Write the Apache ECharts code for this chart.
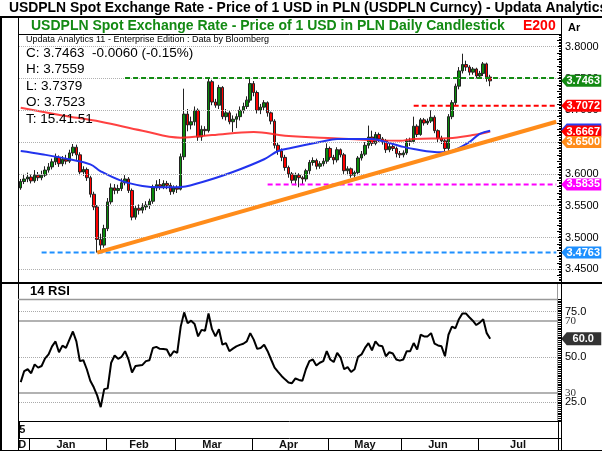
<!DOCTYPE html>
<html>
<head>
<meta charset="utf-8">
<script src="https://cdn.jsdelivr.net/npm/echarts@6/dist/echarts.min.js"></script>
<style>
html, body { margin: 0; padding: 0; background: #fff; }
#chart { width: 602px; height: 451px; }
</style>
</head>
<body>
<div id="chart"></div>
<script>
// trading days shown on the time axis (Dec 29 2014 .. Jul 31 2015)
var dates = [];
(function () {
  var d = new Date(Date.UTC(2014, 11, 29));
  var end = Date.UTC(2015, 6, 31);
  while (d.getTime() <= end) {
    var wd = d.getUTCDay();
    if (wd !== 0 && wd !== 6) dates.push(d.toISOString().slice(0, 10));
    d.setUTCDate(d.getUTCDate() + 1);
  }
})();

var monthNames = ['D', 'Jan', 'Feb', 'Mar', 'Apr', 'May', 'Jun', 'Jul'];
var yearLabel = '5';

// daily candles
var opens = [3.578,3.588,3.592,3.595,3.589,3.598,3.594,3.598,3.606,3.611,3.619,3.626,3.616,3.623,3.620,3.633,3.642,3.630,3.603,3.607,
  3.594,3.568,3.548,3.497,3.488,3.514,3.556,3.578,3.574,3.577,3.586,3.592,3.574,3.532,3.546,3.543,3.548,3.551,3.557,3.578,
  3.583,3.580,3.585,3.582,3.572,3.578,3.576,3.627,3.694,3.677,3.682,3.700,3.658,3.670,3.668,3.745,3.713,3.708,3.736,3.690,
  3.696,3.682,3.686,3.690,3.700,3.706,3.716,3.742,3.728,3.700,3.705,3.712,3.696,3.683,3.645,3.636,3.626,3.610,3.600,3.590,
  3.598,3.594,3.592,3.605,3.618,3.621,3.612,3.616,3.620,3.640,3.626,3.622,3.638,3.630,3.605,3.608,3.598,3.602,3.625,3.631,
  3.645,3.658,3.648,3.662,3.655,3.652,3.638,3.643,3.640,3.632,3.630,3.633,3.652,3.651,3.675,3.662,3.685,3.680,3.683,3.689,
  3.668,3.656,3.652,3.640,3.690,3.712,3.738,3.762,3.772,3.768,3.760,3.765,3.754,3.758,3.773,3.7523];
var closes = [3.588,3.592,3.595,3.589,3.598,3.594,3.598,3.606,3.611,3.619,3.626,3.616,3.623,3.620,3.633,3.642,3.630,3.603,3.607,3.594,
  3.568,3.548,3.497,3.488,3.514,3.556,3.578,3.574,3.577,3.586,3.592,3.574,3.532,3.546,3.543,3.548,3.551,3.557,3.578,3.583,
  3.580,3.585,3.582,3.572,3.578,3.576,3.627,3.694,3.677,3.682,3.700,3.658,3.670,3.668,3.745,3.713,3.708,3.736,3.690,3.696,
  3.682,3.686,3.690,3.700,3.706,3.716,3.742,3.728,3.700,3.705,3.712,3.696,3.683,3.645,3.636,3.626,3.610,3.600,3.590,3.598,
  3.594,3.592,3.605,3.618,3.621,3.612,3.616,3.620,3.640,3.626,3.622,3.638,3.630,3.605,3.608,3.598,3.602,3.625,3.631,3.645,
  3.658,3.648,3.662,3.655,3.652,3.638,3.643,3.640,3.632,3.630,3.633,3.652,3.651,3.675,3.662,3.685,3.680,3.683,3.689,3.668,
  3.656,3.652,3.640,3.690,3.712,3.738,3.762,3.772,3.768,3.760,3.765,3.754,3.758,3.773,3.7523,3.7463];
var lows = [3.575,3.584,3.587,3.585,3.586,3.589,3.590,3.595,3.602,3.607,3.614,3.611,3.612,3.615,3.617,3.628,3.622,3.598,3.597,3.589,
  3.563,3.543,3.4763,3.479,3.484,3.510,3.552,3.568,3.569,3.573,3.582,3.570,3.527,3.528,3.536,3.538,3.543,3.545,3.553,3.573,
  3.575,3.576,3.576,3.567,3.568,3.570,3.574,3.622,3.667,3.670,3.676,3.652,3.652,3.660,3.665,3.708,3.704,3.702,3.686,3.684,
  3.678,3.666,3.672,3.684,3.695,3.702,3.712,3.722,3.695,3.694,3.700,3.690,3.678,3.640,3.630,3.620,3.605,3.594,3.585,3.582,
  3.579,3.584,3.588,3.600,3.613,3.607,3.608,3.612,3.616,3.622,3.615,3.618,3.626,3.600,3.598,3.594,3.594,3.598,3.621,3.628,
  3.640,3.644,3.645,3.650,3.646,3.633,3.634,3.636,3.626,3.625,3.626,3.630,3.644,3.648,3.658,3.660,3.676,3.677,3.680,3.664,
  3.650,3.647,3.636,3.636,3.686,3.708,3.733,3.758,3.762,3.755,3.756,3.750,3.750,3.754,3.745,3.7379];
var highs = [3.592,3.600,3.602,3.599,3.606,3.603,3.605,3.612,3.617,3.624,3.632,3.629,3.628,3.630,3.638,3.647,3.646,3.634,3.612,3.610,
  3.597,3.572,3.551,3.506,3.520,3.562,3.585,3.584,3.583,3.593,3.598,3.595,3.577,3.550,3.552,3.554,3.557,3.561,3.583,3.590,
  3.592,3.590,3.589,3.586,3.582,3.582,3.632,3.734,3.702,3.690,3.706,3.703,3.676,3.675,3.752,3.748,3.718,3.740,3.738,3.702,
  3.699,3.692,3.695,3.706,3.712,3.722,3.752,3.746,3.731,3.710,3.716,3.714,3.698,3.686,3.650,3.640,3.630,3.613,3.603,3.602,
  3.601,3.597,3.608,3.622,3.626,3.624,3.620,3.625,3.648,3.643,3.630,3.642,3.640,3.633,3.612,3.610,3.605,3.628,3.636,3.650,
  3.676,3.668,3.666,3.665,3.658,3.655,3.647,3.646,3.643,3.636,3.637,3.656,3.657,3.690,3.678,3.688,3.688,3.687,3.700,3.692,
  3.670,3.660,3.655,3.694,3.716,3.742,3.768,3.789,3.778,3.771,3.768,3.767,3.762,3.776,3.775,3.7559];

// moving averages, read at sample days
var redMaIdx = [0, 12, 23, 35, 46, 55, 67, 76, 90, 109, 113, 123, 130, 135];
var redMaVal = [3.704, 3.692, 3.682, 3.668, 3.657, 3.661, 3.666, 3.660, 3.656, 3.652, 3.655, 3.656, 3.661, 3.6667];
var blueMaIdx = [0, 6, 14, 20, 23, 29, 35, 40, 45, 52, 61, 70, 74, 78, 86, 91, 101, 105, 109, 113, 121, 124, 129, 132, 135];
var blueMaVal = [3.636, 3.631, 3.623, 3.615, 3.604, 3.589, 3.581, 3.579, 3.579, 3.587, 3.603, 3.623, 3.636, 3.641, 3.650,
  3.655, 3.655, 3.650, 3.644, 3.639, 3.634, 3.636, 3.650, 3.663, 3.668];

// trend line and horizontal levels
var trendIdx = [22, 154];
var trendVal = [3.4763, 3.682];
var levelVal = [3.751, 3.7072, 3.5835, 3.4763];
var levelStart = [30, 113, 71, 6];

// 14 RSI
var rsi = [36.0,42.1,43.1,40.9,45.8,44.0,44.9,49.1,51.3,55.8,58.5,52.5,56.2,54.9,59.5,64.0,58.5,47.6,48.1,43.1,
  36.7,33.1,28.5,22.1,32.1,32.5,46.7,50.7,48.9,50.0,53.1,48.5,41.3,44.9,45.2,45.5,47.6,48.1,54.9,55.5,
  54.4,54.3,54.0,50.3,53.1,52.2,66.7,74.6,68.6,70.0,68.2,61.3,64.9,64.4,74.0,65.3,61.3,65.3,56.7,57.6,
  53.1,54.5,55.8,56.6,57.2,58.5,63.1,59.5,54.4,54.9,56.7,53.1,48.5,44.0,41.6,39.4,37.5,35.8,35.4,38.0,
  37.2,36.7,43.1,47.6,48.5,45.2,46.7,47.6,53.1,48.5,47.1,52.2,49.5,43.1,44.3,41.6,43.1,50.0,51.3,54.9,
  57.6,53.6,58.5,56.2,55.8,50.3,52.5,51.8,48.5,47.9,48.5,53.1,53.1,57.6,54.0,62.2,61.3,61.3,63.1,57.3,
  56.3,55.8,50.3,62.2,66.7,65.8,70.8,74.0,74.0,71.9,70.0,67.6,68.9,70.8,63.1,60.0];

// axis labels and right-hand value tags
var priceTicks = [3.45, 3.50, 3.55, 3.60, 3.65, 3.70, 3.75, 3.80];
var rsiTicks = [25, 50, 75];
var rsiBands = [30, 70];
var tagVal = [3.6700, 3.7463, 3.7072, 3.6667, 3.6500, 3.5835, 3.4763];
var tagText = ['', '3.7463', '3.7072', '3.6667', '3.6500', '3.5835', '3.4763'];
var rsiTag = 60.0;

var infoLines = ['C: 3.7463  -0.0060 (-0.15%)', 'H: 3.7559', 'L: 3.7379', 'O: 3.7523', 'T: 15.41.51'];

// ---------------------------------------------------------------
var last = dates.length - 1;
var tagColors = ['#2a3cf0', '#138a13', '#ff0000', '#ff0000', '#ff8c1a', '#ff00ff', '#1e90ff'];
var levelColors = ['#138a13', '#ff0000', '#ff00ff', '#1e90ff'];

var candleData = opens.map(function (o, i) { return [o, closes[i], lows[i], highs[i]]; });
function pairs(idx, val) { return idx.map(function (k, j) { return [dates[k], val[j]]; }); }

// month boundaries / middles for the date strip
var monthStart = {}, monthMid = {};
(function () {
  var groups = [];
  dates.forEach(function (d, i) {
    var key = d.slice(0, 7);
    if (!groups.length || groups[groups.length - 1].key !== key) groups.push({ key: key, first: i, last: i });
    else groups[groups.length - 1].last = i;
  });
  groups.forEach(function (g, k) {
    if (k > 0) monthStart[g.first] = true;
    monthMid[k === 0 ? g.first : Math.floor((g.first + g.last) / 2)] = monthNames[k];
  });
})();

var font = 'Liberation Sans, Arial, sans-serif';
var myChart = echarts.init(document.getElementById('chart'));

function txt(text, left, top, size, weight, color) {
  return { text: text, left: left, top: top, padding: 0,
    textStyle: { fontSize: size, fontWeight: weight, color: color, fontFamily: font } };
}
var titles = [
  txt('USDPLN Spot Exchange Rate - Price of 1 USD in PLN (USDPLN Curncy) - Updata Analytics', 9, 1, 13.9, 'bold', '#000'),
  txt('USDPLN Spot Exchange Rate - Price of 1 USD in PLN Daily Candlestick', 31, 19, 14, 'bold', '#138a13'),
  txt('E200', 523, 19, 14, 'bold', '#ff0000'),
  txt('Ar', 568, 22, 11, 'bold', '#000'),
  txt('Updata Analytics 11 - Enterprise Edition : Data by Bloomberg', 26, 35, 9, 'normal', '#000'),
  txt('14 RSI', 30, 285, 13, 'bold', '#000')
];
infoLines.forEach(function (t, k) {
  titles.push(txt(t, 26, 46 + k * 16.5, 13.5, 'normal', '#000'));
});

function hline(x1, x2, y, color, w) {
  return { type: 'line', silent: true, z: 50, shape: { x1: x1, y1: y, x2: x2, y2: y }, style: { stroke: color, lineWidth: w } };
}
function vline(x, y1, y2, color, w) {
  return { type: 'line', silent: true, z: 50, shape: { x1: x, y1: y1, x2: x, y2: y2 }, style: { stroke: color, lineWidth: w } };
}

var tagSymbol = 'path://M0,6L6,0L44,0L44,12L6,12Z';
var stripRich = { p: { padding: [0, 0, 0, 3], fontSize: 11, fontWeight: 'bold', color: '#111' } };

var option = {
  animation: false,
  backgroundColor: '#fff',
  textStyle: { fontFamily: font },
  title: titles,
  grid: [
    { left: 19, top: 34, width: 539, height: 248 },
    { left: 19, top: 299, width: 539, height: 121 },
    { left: 19, top: 421, width: 539, height: 17 },
    { left: 19, top: 438, width: 539, height: 13 }
  ],
  xAxis: [
    { type: 'category', gridIndex: 0, data: dates, show: false, boundaryGap: true },
    { type: 'category', gridIndex: 1, data: dates, show: false, boundaryGap: true },
    { type: 'category', gridIndex: 2, data: dates, boundaryGap: true,
      axisLine: { show: false }, axisTick: { show: false },
      splitLine: { show: true, interval: function (i) { return i === 3; }, lineStyle: { color: '#000', width: 1 } },
      axisLabel: { inside: true, margin: 3, interval: function (i) { return i === 0; }, rich: stripRich,
        formatter: function () { return '{p|' + yearLabel + '}'; }, fontSize: 11, fontWeight: 'bold', color: '#111' } },
    { type: 'category', gridIndex: 3, data: dates, boundaryGap: true,
      axisLine: { show: false }, axisTick: { show: false },
      splitLine: { show: true, interval: function (i) { return !!monthStart[i]; }, lineStyle: { color: '#000', width: 1 } },
      axisLabel: { inside: true, margin: 1, interval: function (i) { return monthMid[i] !== undefined; }, rich: stripRich,
        formatter: function (v, i) { return i === 0 ? '{p|' + monthMid[i] + '}' : monthMid[i]; },
        fontSize: 11, fontWeight: 'bold', color: '#111' } }
  ],
  yAxis: [
    { type: 'value', gridIndex: 0, position: 'right', offset: 3, min: 3.43, max: 3.82, interval: 0.01,
      axisLine: { show: true, lineStyle: { color: '#000' } },
      axisTick: { show: true, inside: true, length: 4, lineStyle: { color: '#000' } },
      minorTick: { show: true, splitNumber: 4, length: 2, lineStyle: { color: '#000' } },
      splitLine: { show: false },
      axisLabel: { customValues: priceTicks, hideOverlap: false, formatter: function (v) { return v.toFixed(4); },
        fontSize: 11, color: '#000', margin: 4 } },
    { type: 'value', gridIndex: 1, position: 'right', offset: 3, min: 15, max: 82, interval: 1,
      axisLine: { show: true, lineStyle: { color: '#000' } },
      axisTick: { show: true, inside: true, length: 3, lineStyle: { color: '#000' } },
      splitLine: { show: false },
      axisLabel: { customValues: rsiTicks, hideOverlap: false, margin: 4, fontSize: 11, color: '#000',
        formatter: function (v) { return v.toFixed(1); } } },
    { type: 'value', gridIndex: 2, show: false },
    { type: 'value', gridIndex: 3, show: false },
    // second scale on the RSI panel carrying the 30 / 70 band labels
    { type: 'value', gridIndex: 1, position: 'right', offset: 3, min: 15, max: 82,
      axisLine: { show: false }, axisTick: { show: false }, splitLine: { show: false },
      axisLabel: { customValues: rsiBands, hideOverlap: false, margin: 4, fontSize: 11, color: '#333',
        fontFamily: 'Liberation Serif, serif' } }
  ],
  series: [
    { name: 'grid', type: 'line', xAxisIndex: 0, yAxisIndex: 0, data: [], z: 1,
      markLine: { silent: true, symbol: 'none', label: { show: false }, animation: false,
        lineStyle: { color: '#b0b0b0', type: 'dotted', width: 1 },
        data: priceTicks.map(function (v) { return { yAxis: v }; }) } },
    { name: 'USDPLN', type: 'candlestick', xAxisIndex: 0, yAxisIndex: 0, data: candleData, barWidth: 3, z: 3,
      itemStyle: { color: '#0a8a0a', color0: '#ff0000', borderColor: '#222', borderColor0: '#222', borderWidth: 1 } },
    { name: 'E200', type: 'line', xAxisIndex: 0, yAxisIndex: 0, data: pairs(redMaIdx, redMaVal), smooth: 0.4,
      showSymbol: false, z: 4, lineStyle: { color: '#ff2020', width: 2, opacity: 0.85 } },
    { name: 'MA', type: 'line', xAxisIndex: 0, yAxisIndex: 0, data: pairs(blueMaIdx, blueMaVal), smooth: 0.4,
      showSymbol: false, z: 4, lineStyle: { color: '#2233ee', width: 2 } }
  ].concat(levelVal.map(function (v, k) {
    return { type: 'line', xAxisIndex: 0, yAxisIndex: 0, showSymbol: false, z: 5,
      data: [[dates[levelStart[k]], v], [dates[last], v]],
      lineStyle: { color: levelColors[k], width: 2, type: [5, 3] } };
  })).concat([
    { name: 'trend', type: 'line', xAxisIndex: 0, yAxisIndex: 0, showSymbol: false, z: 6,
      data: pairs(trendIdx, trendVal), lineStyle: { color: '#ff8c1a', width: 4 } },
    { name: 'tags', type: 'line', xAxisIndex: 0, yAxisIndex: 0, data: [], z: 20, clip: false,
      markPoint: { symbol: tagSymbol, symbolSize: [40, 12], symbolOffset: [25, 0],
        silent: true, animation: false,
        label: { show: true, color: '#fff', fontSize: 11, fontWeight: 'bold', offset: [2, 0],
          formatter: function (p) { return tagText[p.dataIndex]; } },
        data: tagVal.map(function (v, k) {
          return { coord: [dates[last], v], itemStyle: { color: tagColors[k] } };
        }) } },
    { name: 'RSI', type: 'line', xAxisIndex: 1, yAxisIndex: 1, data: rsi, showSymbol: false, z: 5,
      lineStyle: { color: '#000', width: 2 },
      markLine: { silent: true, symbol: 'none', label: { show: false }, animation: false,
        data: rsiTicks.map(function (v) { return { yAxis: v, lineStyle: { color: '#aaa', type: 'dotted', width: 1 } }; })
          .concat(rsiBands.map(function (v) { return { yAxis: v, lineStyle: { color: '#999', type: 'solid', width: 1.5 } }; })) },
      markPoint: { symbol: tagSymbol, symbolSize: [40, 13], symbolOffset: [25, 0],
        silent: true, animation: false,
        label: { show: true, color: '#fff', fontSize: 11, fontWeight: 'bold', offset: [2, 0],
          formatter: function () { return rsiTag.toFixed(1); } },
        data: [{ coord: [dates[last], rsiTag], itemStyle: { color: '#333' } }] } }
  ]),
  graphic: [
    hline(0, 602, 17, '#000', 2),
    vline(1, 17, 451, '#000', 2),
    vline(18.5, 17, 451, '#000', 1),
    hline(18, 561, 34.5, '#000', 1),
    vline(561.5, 17, 34, '#000', 1),
    hline(0, 602, 283, '#000', 2),
    hline(18, 558, 299.5, '#999', 1.5),
    vline(557.5, 284, 421, '#999', 1),
    hline(18, 561, 421.5, '#000', 1),
    hline(18, 561, 438.5, '#000', 1),
    vline(561.5, 284, 451, '#000', 1),
    hline(0, 602, 450.5, '#000', 1)
  ]
};
myChart.setOption(option);
</script>
</body>
</html>
